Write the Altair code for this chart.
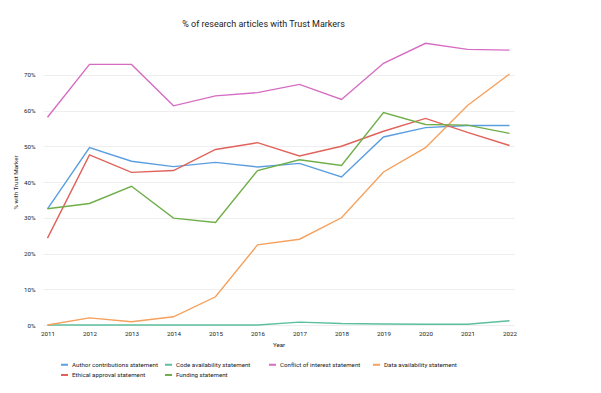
import altair as alt
import pandas as pd

years = [2011, 2012, 2013, 2014, 2015, 2016, 2017, 2018, 2019, 2020, 2021, 2022]
series_names = [
    "Author contributions statement",
    "Code availability statement",
    "Conflict of interest statement",
    "Data availability statement",
    "Ethical approval statement",
    "Funding statement",
]
author = [32.5, 49.6, 45.8, 44.3, 45.5, 44.2, 45.2, 41.4, 52.6, 55.2, 55.8, 55.8]
code = [0.0, 0.0, 0.0, 0.0, 0.0, 0.0, 0.8, 0.4, 0.3, 0.2, 0.2, 1.2]
conflict = [58.1, 72.9, 72.9, 61.3, 64.1, 65.0, 67.3, 63.1, 73.2, 78.8, 77.1, 76.9]
data_av = [0.0, 2.0, 0.9, 2.3, 7.9, 22.4, 24.0, 30.0, 42.8, 49.6, 61.4, 70.2]
ethical = [24.3, 47.6, 42.7, 43.2, 49.1, 51.0, 47.3, 50.0, 54.2, 57.8, 53.9, 50.2]
funding = [32.5, 34.0, 38.8, 29.9, 28.7, 43.2, 46.2, 44.6, 59.4, 56.1, 55.9, 53.6]
colors = ["#5b9ee0", "#5cbf9f", "#d66cc2", "#f5a05c", "#e0625a", "#6fae48"]
y_ticks = [0, 10, 20, 30, 40, 50, 60, 70]

all_series = [author, code, conflict, data_av, ethical, funding]
rows = []
for name, vals in zip(series_names, all_series):
    for yr, v in zip(years, vals):
        rows.append({"Year": str(yr), "Marker": name, "Value": v / 100.0})
df = pd.DataFrame(rows)

font = "Roboto"
fs = 6.2
txt = "#222222"

chart = alt.Chart(df).mark_line(strokeWidth=1.4).encode(
    x=alt.X("Year:O", title="Year",
            scale=alt.Scale(type="point", padding=0.107),
            axis=alt.Axis(labelAngle=0, grid=False, ticks=False, domain=False,
                          labelFontSize=fs, labelColor=txt, titleFontSize=fs,
                          titleFontWeight="normal", titleColor=txt, labelPadding=5,
                          titlePadding=5)),
    y=alt.Y("Value:Q", title="% with Trust Marker",
            scale=alt.Scale(domain=[0, 0.8], nice=False),
            axis=alt.Axis(format=".0%", values=[t / 100 for t in y_ticks], ticks=False,
                          domain=False, gridColor="#eeeeee", labelFontSize=fs,
                          labelColor=txt, titleFontSize=fs, titleFontWeight="normal",
                          titleColor=txt, labelPadding=8, titlePadding=5)),
    color=alt.Color("Marker:N", scale=alt.Scale(domain=series_names, range=colors),
                    legend=alt.Legend(title=None, orient="none", legendX=17, legendY=321,
                                      columns=4, symbolType="stroke", symbolStrokeWidth=2,
                                      symbolSize=49, labelFontSize=fs, labelColor=txt,
                                      columnPadding=3, rowPadding=1.5, labelLimit=200,
                                      labelOffset=3, gridAlign="all", direction="horizontal")),
).properties(
    width=471, height=286,
    title=alt.TitleParams("% of research articles with Trust Markers", fontSize=9,
                          fontWeight="normal", color="#222222", font=font, dx=-15, offset=10),
    padding={"left": 4, "top": 12, "right": 10, "bottom": 10},
).configure(font=font).configure_view(stroke=None)

chart.save("out.html", embed_options={"renderer": "svg", "actions": False})
